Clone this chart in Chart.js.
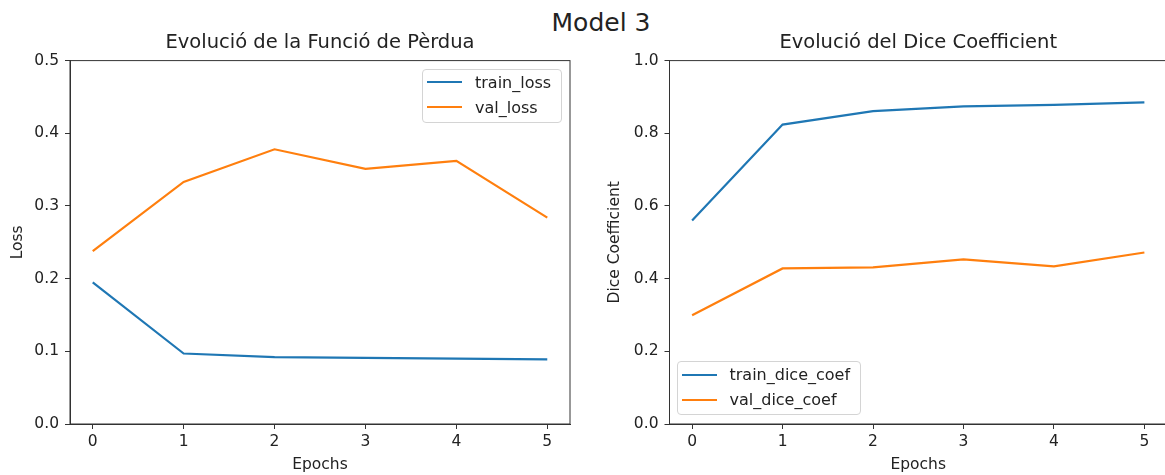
<!DOCTYPE html>
<html>
<head>
<meta charset="utf-8">
<script src="https://cdn.jsdelivr.net/npm/chart.js@4.4.1/dist/chart.umd.min.js"></script>
<style>
  body { margin: 0; width: 1165px; height: 475px; overflow: hidden; background: #fff; font-family: 'DejaVu Sans', sans-serif; color: #222; }
  #sup { position: absolute; top: 10px; left: 601px; transform: translateX(-50%); font-size: 25px; line-height: 25px; white-space: nowrap; }
  .wrap { position: absolute; top: 0; height: 475px; width: 600px; }
  .legend { position: absolute; background: rgba(255,255,255,0.8); border: 1px solid #d4d4d4; border-radius: 4px; padding: 0 10px 2px 0; font-size: 16px; white-space: nowrap; }
  .item { display: flex; align-items: center; height: 25px; }
  .swatch { display: inline-block; width: 35px; height: 2px; margin: 0 13px 0 4px; }
</style>
</head>
<body>
<div id="sup">Model 3</div>
<div class="wrap" id="w1" style="left:0"><canvas id="lossChart"></canvas></div>
<div class="wrap" id="w2" style="left:600px"><canvas id="diceChart"></canvas></div>
<script>
const epochs = [0, 1, 2, 3, 4, 5];
const trainLoss = [0.195, 0.097, 0.092, 0.091, 0.090, 0.089];
const valLoss = [0.238, 0.333, 0.378, 0.351, 0.362, 0.284];
const trainDice = [0.560, 0.824, 0.861, 0.874, 0.878, 0.885];
const valDice = [0.299, 0.428, 0.431, 0.453, 0.434, 0.472];
const lossTicks = [0, 0.1, 0.2, 0.3, 0.4, 0.5];
const diceTicks = [0, 0.2, 0.4, 0.6, 0.8, 1.0];

const BLUE = '#1f77b4';
const ORANGE = '#ff7f0e';
const INK = '#222';

Chart.defaults.font.family = "'DejaVu Sans', sans-serif";
Chart.defaults.color = INK;

// matplotlib-style box round the plot area
const spines = {
  id: 'spines',
  afterDraw(chart) {
    const a = chart.chartArea;
    const ctx = chart.ctx;
    ctx.save();
    ctx.strokeStyle = '#333';
    ctx.lineWidth = 1;
    ctx.strokeRect(a.left, a.top, a.right - a.left, a.bottom - a.top);
    ctx.restore();
  }
};

function points(ys) {
  return epochs.map((e, i) => ({ x: e, y: ys[i] }));
}

function makeChart(id, cfg) {
  return new Chart(document.getElementById(id), {
    type: 'line',
    data: {
      datasets: cfg.series.map(s => ({
        label: s.label,
        data: points(s.values),
        borderColor: s.color,
        backgroundColor: s.color,
        borderWidth: 2.2,
        pointRadius: 0,
        tension: 0
      }))
    },
    options: {
      responsive: false,
      animation: false,
      layout: { padding: { left: 0, right: cfg.right, top: 0, bottom: 0 } },
      plugins: {
        legend: { display: false },
        tooltip: { enabled: false },
        title: {
          display: true,
          text: cfg.title,
          fullSize: false,
          color: INK,
          font: { size: 19.5, weight: 'normal' },
          padding: { top: 31, bottom: 6.2 }
        }
      },
      scales: {
        x: {
          type: 'linear',
          min: -0.25,
          max: 5.25,
          afterBuildTicks: s => { s.ticks = epochs.map(v => ({ value: v })); },
          afterFit: s => { s.height = 51; },
          ticks: { font: { size: 15.5 }, color: INK, padding: 4, callback: v => String(v) },
          grid: { drawOnChartArea: false, tickLength: 5, color: '#333' },
          border: { color: '#333', width: 1 },
          title: { display: true, text: 'Epochs', color: INK, font: { size: 15.5 }, padding: { top: 0, bottom: 1 } }
        },
        y: {
          min: 0,
          max: cfg.yTicks[cfg.yTicks.length - 1],
          afterBuildTicks: s => { s.ticks = cfg.yTicks.map(v => ({ value: v })); },
          afterFit: s => { s.width = cfg.yWidth; },
          ticks: { font: { size: 15.5 }, color: INK, padding: 6, callback: v => v.toFixed(1) },
          grid: { drawOnChartArea: false, tickLength: 5, color: '#333' },
          border: { color: '#333', width: 1 },
          title: { display: true, text: cfg.yTitle, color: INK, font: { size: 15.5 }, padding: { top: cfg.yTitlePad, bottom: 0 } }
        }
      }
    },
    plugins: [spines]
  });
}

function addLegend(chart, wrap, corner) {
  const a = chart.chartArea;
  const box = document.createElement('div');
  box.className = 'legend';
  chart.data.datasets.forEach(ds => {
    const row = document.createElement('div');
    row.className = 'item';
    const sw = document.createElement('span');
    sw.className = 'swatch';
    sw.style.background = ds.borderColor;
    const tx = document.createElement('span');
    tx.textContent = ds.label;
    row.append(sw, tx);
    box.append(row);
  });
  wrap.append(box);
  if (corner === 'upper right') {
    box.style.left = (a.right - 8 - box.offsetWidth) + 'px';
    box.style.top = (a.top + 8) + 'px';
  } else {
    box.style.left = (a.left + 7) + 'px';
    box.style.top = (a.bottom - 9 - box.offsetHeight) + 'px';
  }
}

function sizeCanvas(id) {
  const c = document.getElementById(id);
  c.width = 600;
  c.height = 475;
  c.style.width = '600px';
  c.style.height = '475px';
}
sizeCanvas('lossChart');
sizeCanvas('diceChart');

const lossChart = makeChart('lossChart', {
  title: 'Evolució de la Funció de Pèrdua',
  yTitle: 'Loss',
  yTicks: lossTicks,
  yWidth: 70,
  yTitlePad: 9,
  right: 30,
  series: [
    { label: 'train_loss', values: trainLoss, color: BLUE },
    { label: 'val_loss', values: valLoss, color: ORANGE }
  ]
});

// the right panel runs past the window edge, so its right spine is cut off
const diceChart = makeChart('diceChart', {
  title: 'Evolució del Dice Coefficient',
  yTitle: 'Dice Coefficient',
  yTicks: diceTicks,
  yWidth: 69.5,
  yTitlePad: 6,
  right: 33,
  series: [
    { label: 'train_dice_coef', values: trainDice, color: BLUE },
    { label: 'val_dice_coef', values: valDice, color: ORANGE }
  ]
});

addLegend(lossChart, document.getElementById('w1'), 'upper right');
addLegend(diceChart, document.getElementById('w2'), 'lower left');
</script>
</body>
</html>
